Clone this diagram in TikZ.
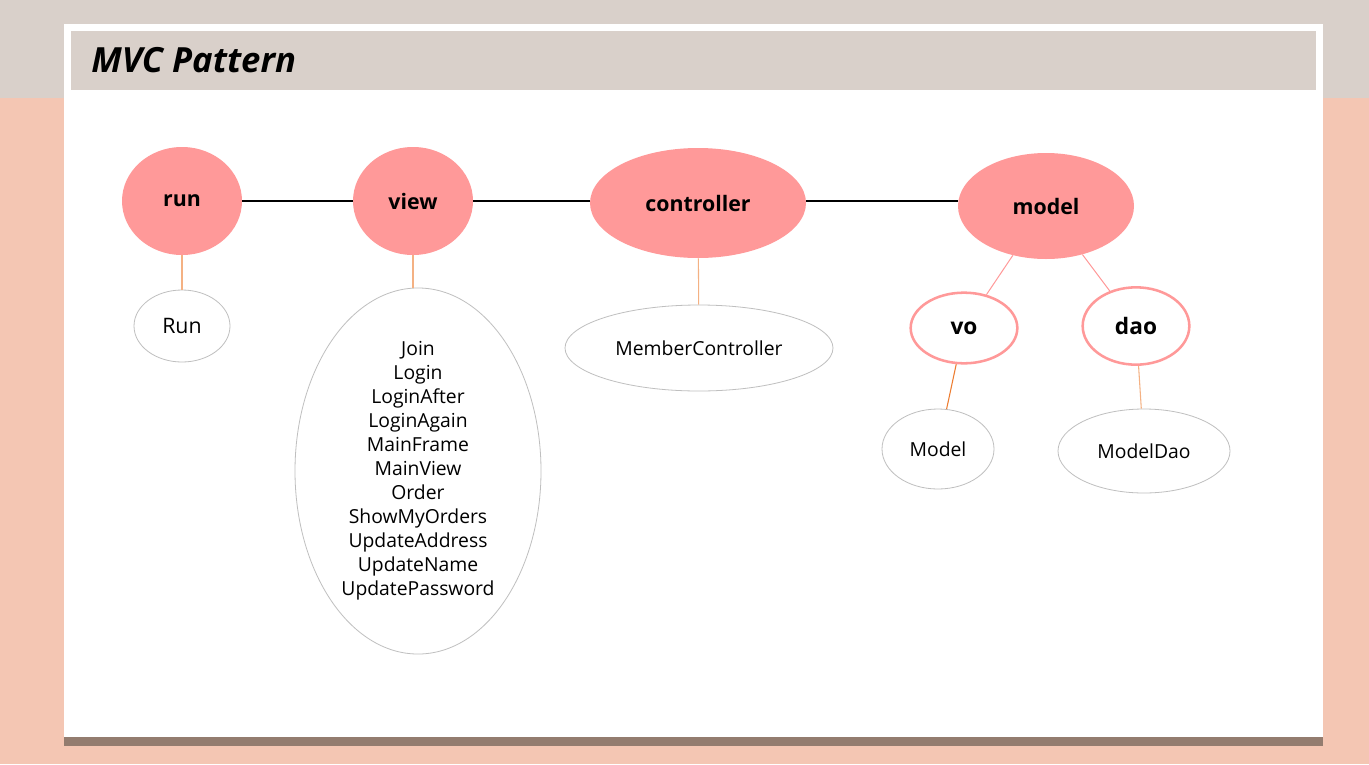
\documentclass[tikz,border=0pt]{standalone}
\usepackage{fontspec}
\setmainfont{Open Sans}
\usepackage{xcolor}
\usetikzlibrary{shapes.geometric}
\definecolor{bandtop}{HTML}{D9D0CA}
\definecolor{bandlow}{HTML}{F4C6B3}
\definecolor{barbrown}{HTML}{937C6F}
\definecolor{nodepink}{HTML}{FF9999}
\definecolor{rimgray}{HTML}{BFBFBF}
\definecolor{linkorange}{HTML}{F4B183}
\definecolor{deeporange}{HTML}{ED7D31}

\begin{document}
\begin{tikzpicture}[
    x=0.75pt,y=-0.75pt,
    pkg/.style={ellipse,fill=nodepink,inner sep=0pt,font=\bfseries\fontsize{16}{18}\selectfont},
    subpkg/.style={ellipse,draw=nodepink,line width=1.9pt,fill=white,inner sep=0pt,font=\bfseries\fontsize{17}{18}\selectfont},
    cls/.style={ellipse,draw=rimgray,line width=0.6pt,fill=white,inner sep=0pt,align=center,font=\fontsize{14.5}{18}\selectfont},
    main/.style={line width=1.5pt,draw=black},
    sub/.style={line width=0.8pt,draw=linkorange},
    pinkline/.style={line width=0.75pt,draw=nodepink}
]
    % slide background
    \fill[bandtop] (0,0) rectangle (1369,98);
    \fill[bandlow] (0,98) rectangle (1369,764);
    \fill[white] (64,24) rectangle (1323,737);
    \fill[barbrown] (64,737) rectangle (1323,746);
    \fill[bandtop] (71,31) rectangle (1316,90);
    \node[anchor=base west,inner sep=0pt,font=\bfseries\itshape\fontsize{26}{30}\selectfont] (title) at (91,72) {MVC Pattern};

    % packages
    \node[pkg,minimum width=90pt,minimum height=81pt] (run) at (182,201) {run};
    \node[pkg,minimum width=90pt,minimum height=81pt] (view) at (413,201) {view};
    \node[pkg,minimum width=162pt,minimum height=82.5pt] (controller) at (698,203) {controller};
    \node[pkg,minimum width=132pt,minimum height=79.5pt] (model) at (1046,206) {model};
    \node[subpkg,minimum width=80pt,minimum height=53pt] (vo) at (964,328) {vo};
    \node[subpkg,minimum width=80pt,minimum height=58pt] (dao) at (1136,326) {dao};

    % classes
    \node[cls,minimum width=72pt,minimum height=54pt,font=\fontsize{16}{18}\selectfont] (runcls) at (182,326) {Run};
    \node[cls,minimum width=184.5pt,minimum height=271.5pt] (viewcls) at (418,471) {Join\\Login\\LoginAfter\\LoginAgain\\MainFrame\\MainView\\Order\\ShowMyOrders\\UpdateAddress\\UpdateName\\UpdatePassword};
    \node[cls,minimum width=201pt,minimum height=64.5pt] (membercls) at (699,348) {MemberController};
    \node[cls,minimum width=84pt,minimum height=60pt] (modelcls) at (938,449) {Model};
    \node[cls,minimum width=129pt,minimum height=63pt] (daocls) at (1144,451) {ModelDao};

    \draw[main] (run.east) -- (view.west);
    \draw[main] (view.east) -- (view.east -| controller.west);
    \draw[main] (view.east -| controller.east) -- (view.east -| model.west);
    \draw[sub] (run) -- (runcls);
    \draw[sub] (view.south) -- (view.south |- viewcls.north);
    \draw[sub] (controller) -- (membercls);
    \draw[pinkline] (model) -- (vo);
    \draw[pinkline] (model) -- (dao);
    \draw[sub,draw=deeporange] (vo) -- (modelcls);
    \draw[sub] (dao) -- (daocls);
\end{tikzpicture}
\end{document}
